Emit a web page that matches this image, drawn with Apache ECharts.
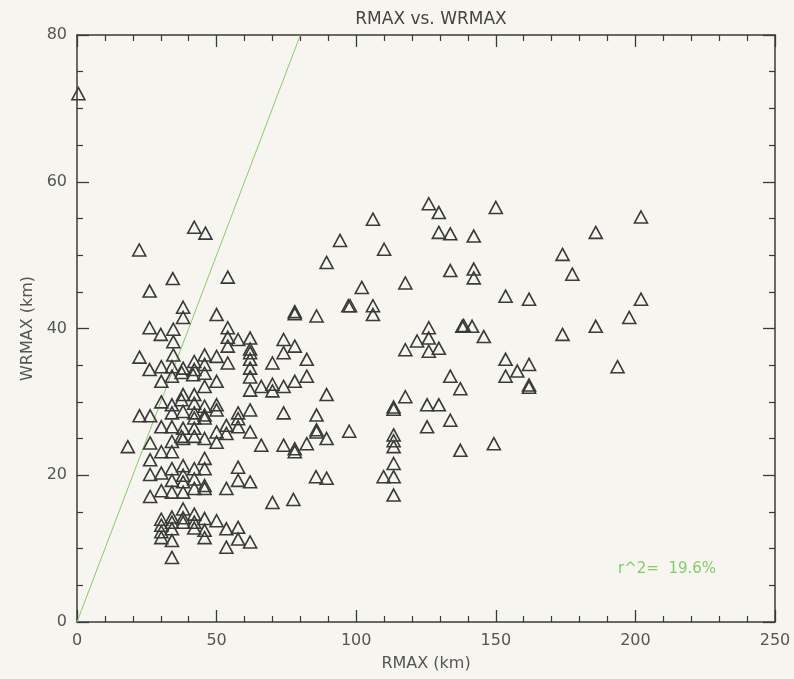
<!DOCTYPE html>
<html>
<head>
<meta charset="utf-8">
<script src="https://cdn.jsdelivr.net/npm/echarts@6/dist/echarts.min.js"></script>
<style>
html,body{margin:0;padding:0;background:#f6f5f0;}
#chart{width:794px;height:679px;}
</style>
</head>
<body>
<div id="chart"></div>
<script>
const points = [
[0.5,72],
[22.3,50.7],[42,53.8],[46,53],[54,47],[34.3,46.8],[26,45.1],[38,42.9],[38,41.5],[26,40.1],[30,39.2],
[34.5,39.9],[34.5,38.2],[22.4,36.1],[34.5,36.4],[50,41.9],[54,40.1],[54,38.8],[54,37.6],[57.7,38.5],
[62,38.7],[62,37.2],[62,36.7],[62,35.8],[62,34.6],[62,33.4],[62,31.6],[70,35.3],[66,32.1],[70,32.4],[70,31.5],
[26,34.4],[30.2,34.8],[34,34.8],[30.2,32.8],[34,33.5],[37.5,34],[41.6,33.7],[38,34.6],[42,35.5],[45.7,36.4],
[50,36.2],[42,34.4],[45.7,35.1],[45.7,33.9],[54,35.3],[50,32.8],[45.7,32.1],[38,31],[42,31],[42,29.8],
[38,28.7],[45.7,29.4],[50,29.6],[45.7,28.2],[57.7,28.5],[62,28.9],[42,28.5],[30.2,30],[34,29.6],[34,28.5],
[37.4,30.3],[22.4,28.1],[26.2,28.1],
[30.2,26.6],[34,26.6],[38,26.4],[42,26.4],[18.2,23.9],[26.2,24.4],[30.2,23.2],[34,24.6],[34,23.2],[37.4,25.3],
[26.2,22.1],[26.2,20.1],[30.2,20.3],[34,20.9],[34,19.3],[26.2,17.1],[30.2,17.9],[34,17.7],[38,21.3],[38,20],
[38,19.1],[38,17.7],[42,20.9],[42,19.5],[42,18.2],[45.7,22.3],[45.7,20.9],[45.7,18.2],[45.7,18.6],[53.5,18.2],
[57.7,21.1],[57.7,19.3],[62,19.1],[45.7,27.8],[50,28.9],[38,25],[42,25.3],[45.7,25],[50,25.9],[50,24.5],
[53.5,26.8],[53.5,25.7],[57.7,27.7],[57.7,26.6],[62,25.9],[66,24.1],[42,27.8],
[30.2,13.2],[34,14.3],[30.2,11.5],[34,12.7],[34,11.1],[34,8.8],[38,15.4],[38,13.6],[42,14.7],[42,13.6],
[45.7,14.1],[45.7,12.5],[45.7,11.5],[50,13.8],[53.5,12.7],[57.7,12.9],[57.7,11.3],[62,10.9],[53.5,10.2],
[30.2,12.3],[38,14.2],[42,12.8],[34,13.6],[30.2,14],
[78,42.3],[78,42],[85.8,41.7],[97.2,43.1],[74,38.5],[78,37.6],[74,36.7],[82.3,35.8],[82.3,33.5],[74,32.1],
[78,32.8],[89.4,31],[74,28.5],[85.8,28.2],[97.5,26],[85.8,25.9],[85.8,26.2],[89.4,25],[74,24.1],[78,23.2],
[78,23.6],[82.3,24.3],[70,16.3],[77.5,16.7],[85.6,19.8],[89.4,19.6],
[89.4,49],[94.2,52],[102,45.6],[97.8,43.1],[106,54.9],[106,43.1],[106,41.9],[110,50.8],[117.6,46.2],[126,57],
[129.6,55.8],[129.6,53.1],[133.7,52.9],[142.1,52.6],[150,56.5],[133.7,47.9],[142.1,48.1],[142.1,46.9],
[153.5,44.4],[161.9,44],[126,40.1],[121.8,38.3],[126,38.7],[117.6,37.1],[126,36.9],[129.6,37.3],[138,40.3],
[138.5,40.4],[141.5,40.3],[145.7,38.9],[153.5,35.8],[161.9,35.1],[153.5,33.5],[157.7,34.2],[161.9,32.3],
[161.9,32],[133.7,33.5],[137.3,31.8],[117.6,30.7],[113.4,29.3],[113.4,29],[125.4,29.6],[129.6,29.6],
[133.7,27.5],[125.4,26.6],[113.4,25.5],[113.4,24.7],[113.4,23.9],[137.3,23.4],[149.3,24.3],[113.4,21.6],
[109.8,19.8],[113.4,19.8],[113.4,17.3],
[202,55.2],[185.8,53.1],[173.9,50.1],[177.4,47.4],[202,44],[197.8,41.5],[185.8,40.3],[173.9,39.2],[193.6,34.8]
];
const oneToOneLine = [[0,0],[80,80]];
const xRange = [0, 250];
const yRange = [0, 80];
const titleText = 'RMAX vs. WRMAX';
const xName = 'RMAX (km)';
const yName = 'WRMAX (km)';
const fitText = 'r^2=  19.6%';

const FONT = 'DejaVu Sans';
const axisCol = '#3a3a3a';
const labelCol = '#555';

function axisBase(extra) {
  return Object.assign({
    type: 'value',
    axisLine: {show: true, onZero: false, lineStyle: {color: axisCol, width: 1.5}},
    axisTick: {show: true, inside: true, length: 12, lineStyle: {color: axisCol, width: 1.3}},
    splitLine: {show: false},
    minorSplitLine: {show: false}
  }, extra);
}
function minor(n) {
  return {show: true, splitNumber: n, length: 6, lineStyle: {color: axisCol, width: 1.2}};
}

const chart = echarts.init(document.getElementById('chart'), null, {renderer: 'canvas'});
chart.setOption({
  backgroundColor: '#f6f5f0',
  animation: false,
  title: {
    text: titleText, left: 426, top: 6, textAlign: 'center',
    textStyle: {fontFamily: FONT, fontSize: 17, fontWeight: 'normal', color: '#444'}
  },
  grid: {left: 77, right: 19, top: 35, bottom: 57},
  xAxis: [
    axisBase({
      position: 'bottom', min: xRange[0], max: xRange[1], interval: 50, minorTick: minor(5),
      axisLabel: {show: true, margin: 11, fontFamily: FONT, fontSize: 16, color: labelCol},
      name: xName, nameLocation: 'middle', nameGap: 34,
      nameTextStyle: {fontFamily: FONT, fontSize: 16, color: labelCol}
    }),
    axisBase({
      position: 'top', min: xRange[0], max: xRange[1], interval: 50, minorTick: minor(5),
      axisLabel: {show: false}
    })
  ],
  yAxis: [
    axisBase({
      position: 'left', min: yRange[0], max: yRange[1], interval: 20, minorTick: minor(4),
      axisLabel: {show: true, margin: 10, fontFamily: FONT, fontSize: 16, color: labelCol},
      name: yName, nameLocation: 'middle', nameGap: 40, nameRotate: 90,
      nameTextStyle: {fontFamily: FONT, fontSize: 16, color: labelCol}
    }),
    axisBase({
      position: 'right', min: yRange[0], max: yRange[1], interval: 20, minorTick: minor(4),
      axisLabel: {show: false}
    })
  ],
  series: [
    {
      type: 'line', data: oneToOneLine, xAxisIndex: 0, yAxisIndex: 0,
      symbol: 'none', lineStyle: {color: '#86cc6a', width: 1}, silent: true, z: 1
    },
    {
      type: 'scatter', data: points, xAxisIndex: 0, yAxisIndex: 0,
      symbol: 'triangle', symbolSize: [13, 12],
      itemStyle: {color: 'rgba(0,0,0,0)', borderColor: '#3a3a3a', borderWidth: 1.6, opacity: 1},
      z: 2
    }
  ],
  graphic: [
    {
      type: 'text', left: 618, top: 562,
      style: {text: fitText, fill: '#86cc6a', font: '15px "DejaVu Sans"'}
    }
  ]
});
</script>
</body>
</html>
